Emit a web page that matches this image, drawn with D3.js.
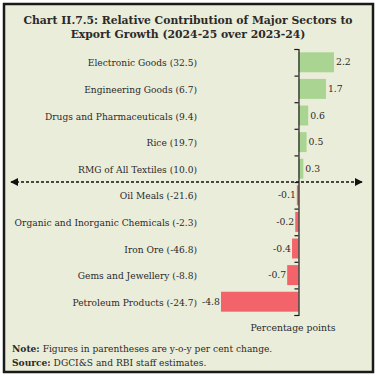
<!DOCTYPE html>
<html><head><meta charset="utf-8">
<script src="https://cdn.jsdelivr.net/npm/d3@7"></script>
<style>html,body{margin:0;padding:0;background:#fff}</style>
</head><body>
<script>
const categories = ["Electronic Goods (32.5)","Engineering Goods (6.7)","Drugs and Pharmaceuticals (9.4)","Rice (19.7)","RMG of All Textiles (10.0)","Oil Meals (-21.6)","Organic and Inorganic Chemicals (-2.3)","Iron Ore (-46.8)","Gems and Jewellery (-8.8)","Petroleum Products (-24.7)"];
const values = [2.2,1.7,0.6,0.5,0.3,-0.1,-0.2,-0.4,-0.7,-4.8];
const titleLines = ["Chart II.7.5: Relative Contribution of Major Sectors to","Export Growth (2024-25 over 2023-24)"];
const axisTitle = "Percentage points";
const noteLines = [["Note:"," Figures in parentheses are y-o-y per cent change."],["Source:"," DGCI&S and RBI staff estimates."]];

const W=377,H=377;
const serif = "'DejaVu Serif','Liberation Serif',serif";
const svg = d3.select("body").append("svg").attr("width",W).attr("height",H);
svg.append("rect").attr("x",4).attr("y",4).attr("width",369).attr("height",368)
  .attr("fill","#eaedd9").attr("stroke","#1a1a1a").attr("stroke-width",2.5);

svg.append("text").attr("x",188).attr("font-family",serif).attr("font-weight","bold")
  .attr("font-size",10.8).attr("fill","#2a2a2a").attr("text-anchor","middle")
  .selectAll("tspan").data(titleLines).join("tspan").attr("x",188).attr("y",(d,i)=>24+i*14).text(d=>d);

const x = d3.scaleLinear().domain([-4.8,2.2]).range([221,334]);
const yb = d3.scaleBand().domain(categories).range([49,315]).paddingInner(0.25).paddingOuter(0.125);
const yt = d3.scaleLinear().domain([0,categories.length]).range([49,315]);

const g = svg.append("g");
g.selectAll("rect.bar").data(values).join("rect").attr("class","bar")
  .attr("x",d=>x(Math.min(0,d))).attr("width",d=>Math.abs(x(d)-x(0)))
  .attr("y",(d,i)=>yb(categories[i])).attr("height",yb.bandwidth())
  .attr("fill",d=>d>=0?"#a9d491":"#f2646a");

const ax = svg.append("g").attr("transform",`translate(${x(0)},0)`)
  .call(d3.axisLeft(yt).ticks(categories.length).tickFormat("").tickSizeOuter(0).tickSize(4));
ax.selectAll("path,line").attr("stroke","#1a1a1a").attr("stroke-width",1.2);

const cy = i => yb(categories[i]) + yb.bandwidth()/2;
svg.selectAll("text.cat").data(categories).join("text").attr("class","cat")
  .attr("x",197).attr("y",(d,i)=>cy(i)+4).attr("text-anchor","end")
  .attr("font-family",serif).attr("font-size",9.1).attr("fill","#2a2a2a").text(d=>d);

svg.selectAll("text.val").data(values).join("text").attr("class","val")
  .attr("x",d=>d>=0?x(d)+2:x(d)-1).attr("y",(d,i)=>cy(i)+3)
  .attr("text-anchor",d=>d>=0?"start":"end")
  .attr("font-family",serif).attr("font-size",9.3).attr("fill","#2a2a2a").text(d=>d.toFixed(1));

// dashed divider with arrows
const dy = yt(5);
svg.append("defs").html(`<marker id="ah" viewBox="0 0 10 10" refX="9" refY="5" markerWidth="5" markerHeight="5" orient="auto-start-reverse"><path d="M0,0L10,5L0,10z" fill="#111"/></marker>`);
svg.append("line").attr("x1",11).attr("x2",362).attr("y1",dy).attr("y2",dy)
  .attr("stroke","#111").attr("stroke-width",1.6).attr("stroke-dasharray","3,2")
  .attr("marker-start","url(#ah)").attr("marker-end","url(#ah)");

svg.append("text").attr("x",293).attr("y",331).attr("text-anchor","middle")
  .attr("font-family",serif).attr("font-size",9.3).attr("fill","#2a2a2a").text(axisTitle);

noteLines.forEach((n,i)=>{
  const t = svg.append("text").attr("x",12).attr("y",352+i*14).attr("font-family",serif).attr("font-size",9.1).attr("fill","#2a2a2a");
  t.append("tspan").attr("font-weight","bold").text(n[0]);
  t.append("tspan").text(n[1]);
});
</script>
</body></html>
